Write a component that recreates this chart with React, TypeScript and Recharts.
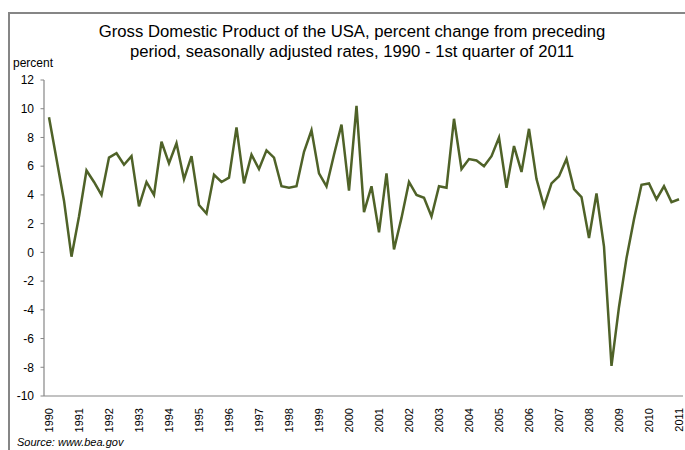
import React from 'react';
import { LineChart, Line, XAxis, YAxis } from 'recharts';

const years = [
  1990, 1991, 1992, 1993, 1994, 1995, 1996, 1997, 1998, 1999, 2000,
  2001, 2002, 2003, 2004, 2005, 2006, 2007, 2008, 2009, 2010, 2011,
];

// quarterly % change, 1990 Q1 .. 2011 Q1
const gdpChange = [
  9.4, 6.5, 3.6, -0.3,
  2.5, 5.7, 4.9, 4.0,
  6.6, 6.9, 6.1, 6.7,
  3.2, 4.9, 4.0, 7.7,
  6.2, 7.6, 5.1, 6.7,
  3.3, 2.7, 5.4, 4.9,
  5.2, 8.7, 4.8, 6.8,
  5.8, 7.1, 6.6, 4.6,
  4.5, 4.6, 7.0, 8.5,
  5.5, 4.6, 6.8, 8.9,
  4.3, 10.2, 2.8, 4.6,
  1.4, 5.5, 0.2, 2.4,
  4.9, 4.0, 3.8, 2.5,
  4.6, 4.5, 9.3, 5.8,
  6.5, 6.4, 6.0, 6.7,
  8.0, 4.5, 7.4, 5.6,
  8.6, 5.1, 3.2, 4.8,
  5.3, 6.5, 4.4, 3.85,
  1.0, 4.1, 0.4, -7.9,
  -3.8, -0.4, 2.3, 4.7,
  4.8, 3.7, 4.6, 3.5,
  3.7,
];

const yTicks = [-10, -8, -6, -4, -2, 0, 2, 4, 6, 8, 10, 12];

const FONT = '"Liberation Sans", Arial, sans-serif';
const AXIS_GREY = '#868686';

const quarters: string[] = [];
years.forEach((y) => {
  for (let q = 1; q <= 4; q++) quarters.push(`${y} Q${q}`);
});

const data = gdpChange.map((value, i) => ({ quarter: quarters[i], value }));
const yearTicks = years.map((y) => `${y} Q1`);

function YearTick(props: any) {
  const { x, payload } = props;
  const y = 408;
  return (
    <text
      x={x}
      y={y}
      transform={`rotate(-90, ${x}, ${y})`}
      textAnchor="end"
      dominantBaseline="central"
      fontSize={11}
      fontFamily={FONT}
      fill="#000"
    >
      {String(payload.value).slice(0, 4)}
    </text>
  );
}

export default function App() {
  return (
    <div
      style={{
        position: 'fixed',
        left: 0,
        top: 0,
        width: 685,
        height: 450,
        overflow: 'hidden',
        background: '#fff',
        fontFamily: FONT,
      }}
    >
      <div
        style={{
          position: 'absolute',
          left: 8,
          top: 12,
          width: 800,
          height: 600,
          border: `2px solid ${AXIS_GREY}`,
        }}
      />
      <div
        style={{
          position: 'absolute',
          left: 0,
          top: 22,
          width: 704,
          textAlign: 'center',
          fontSize: 16.7,
          lineHeight: '20px',
          color: '#000',
        }}
      >
        Gross Domestic Product of the USA, percent change from preceding
        <br />
        period, seasonally adjusted rates, 1990 - 1st quarter of 2011
      </div>
      <div style={{ position: 'absolute', left: 13, top: 56, fontSize: 12, color: '#000' }}>
        percent
      </div>
      <div
        style={{
          position: 'absolute',
          left: 17,
          top: 436,
          fontSize: 11,
          fontStyle: 'italic',
          color: '#000',
        }}
      >
        Source: www.bea.gov
      </div>
      <div style={{ position: 'absolute', left: 0, top: 0 }}>
        <LineChart
          width={685}
          height={450}
          data={data}
          margin={{ top: 80, right: 2, bottom: 0, left: 0 }}
        >
          <XAxis
            dataKey="quarter"
            ticks={yearTicks}
            interval={0}
            tick={<YearTick />}
            tickLine={false}
            axisLine={{ stroke: AXIS_GREY, strokeWidth: 1.2 }}
            height={54}
            padding={{ left: 5, right: 4 }}
          />
          <YAxis
            domain={[-10, 12]}
            ticks={yTicks}
            interval={0}
            width={44}
            tickSize={3.5}
            tickMargin={6.5}
            tickLine={{ stroke: AXIS_GREY }}
            axisLine={{ stroke: AXIS_GREY, strokeWidth: 1.2 }}
            tick={{ fontSize: 12, fill: '#000', fontFamily: FONT }}
          />
          <Line
            type="linear"
            dataKey="value"
            stroke="#4F6228"
            strokeWidth={2.5}
            dot={false}
            isAnimationActive={false}
          />
        </LineChart>
      </div>
    </div>
  );
}
